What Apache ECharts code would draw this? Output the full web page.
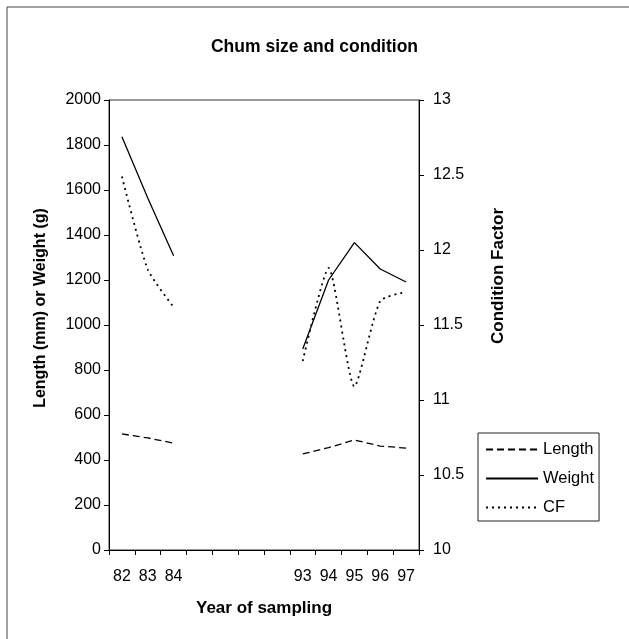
<!DOCTYPE html>
<html>
<head>
<meta charset="utf-8">
<script src="https://cdn.jsdelivr.net/npm/echarts@6/dist/echarts.min.js"></script>
<style>
  html, body { margin: 0; padding: 0; background: #fff; }
  #chumChart { width: 629px; height: 639px; }
</style>
</head>
<body>
<div id="chumChart"></div>
<script>
// years of sampling (blank slots stand for the gap between 84 and 93)
var years = ['82', '83', '84', '', '', '', '', '93', '94', '95', '96', '97']
// length (mm)
var lengthMm = [516, 498, 475, null, null, null, null, 427, 455, 489, 462, 453]
// weight (g)
var weightG = [1837, 1564, 1308, null, null, null, null, 893, 1200, 1366, 1249, 1191]
// condition factor (right axis)
var conditionFactor = [12.49, 11.87, 11.62, null, null, null, null, 11.26, 11.88, 11.09, 11.66, 11.72]

var leftTicks = { min: 0, max: 2000, interval: 200 }
var rightTicks = { min: 10, max: 13, interval: 0.5 }

var font = 'Liberation Sans, Arial, sans-serif'
var ink = '#000'

var chumChart = echarts.init(document.getElementById('chumChart'))
chumChart.setOption({
  animation: false,
  backgroundColor: '#fff',
  textStyle: { fontFamily: font, color: ink },
  title: {
    text: 'Chum size and condition',
    left: 'center',
    top: 33,
    textStyle: { fontFamily: font, fontSize: 17.5, fontWeight: 'bold', color: ink }
  },
  graphic: [
    { type: 'line', shape: { x1: 7, y1: 7, x2: 629, y2: 7 }, style: { stroke: '#444', lineWidth: 1 } },
    { type: 'line', shape: { x1: 7, y1: 7, x2: 7, y2: 639 }, style: { stroke: '#444', lineWidth: 1 } }
  ],
  legend: {
    orient: 'vertical',
    left: 478,
    top: 433,
    itemWidth: 52,
    itemHeight: 16,
    itemGap: 12,
    padding: [8, 5, 5, 7],
    borderColor: '#222',
    borderWidth: 1,
    backgroundColor: '#fff',
    selectedMode: false,
    itemStyle: { opacity: 0 },
    textStyle: { fontFamily: font, fontSize: 16.5, color: ink },
    data: ['Length', 'Weight', 'CF']
  },
  grid: {
    left: 109,
    right: 210,
    top: 100,
    bottom: 89,
    show: true,
    borderColor: '#333',
    borderWidth: 1
  },
  xAxis: {
    type: 'category',
    data: years,
    boundaryGap: true,
    name: 'Year of sampling',
    nameLocation: 'middle',
    nameGap: 50,
    nameTextStyle: { fontFamily: font, fontSize: 17, fontWeight: 'bold', color: ink },
    axisLine: { lineStyle: { color: ink, width: 1 } },
    axisTick: { show: true, length: 5, interval: 0, lineStyle: { color: ink } },
    axisLabel: { interval: 0, margin: 19, fontSize: 16, color: ink, fontFamily: font },
    splitLine: { show: false }
  },
  yAxis: [
    {
      type: 'value',
      position: 'left',
      min: leftTicks.min,
      max: leftTicks.max,
      interval: leftTicks.interval,
      name: 'Length (mm) or Weight (g)',
      nameLocation: 'middle',
      nameRotate: 90,
      nameGap: 60,
      nameTextStyle: { fontFamily: font, fontSize: 16, fontWeight: 'bold', color: ink, padding: [0, 0, 0, 34] },
      axisLine: { show: true, lineStyle: { color: ink, width: 1 } },
      axisTick: { show: true, length: 5, lineStyle: { color: ink } },
      axisLabel: { margin: 8, fontSize: 16, color: ink, fontFamily: font, formatter: function(v) { return String(v) } },
      splitLine: { show: false }
    },
    {
      type: 'value',
      position: 'right',
      min: rightTicks.min,
      max: rightTicks.max,
      interval: rightTicks.interval,
      name: 'Condition Factor',
      nameLocation: 'middle',
      nameRotate: 90,
      nameGap: 71,
      nameTextStyle: { fontFamily: font, fontSize: 17, fontWeight: 'bold', color: ink, padding: [0, 0, 0, 98] },
      axisLine: { show: true, lineStyle: { color: ink, width: 1 } },
      axisTick: { show: true, length: 5, lineStyle: { color: ink } },
      axisLabel: { margin: 14, fontSize: 16, color: ink, fontFamily: font },
      splitLine: { show: false }
    }
  ],
  series: [
    {
      name: 'Length',
      type: 'line',
      yAxisIndex: 0,
      data: lengthMm,
      symbol: 'none',
      connectNulls: false,
      silent: true,
      itemStyle: { color: ink },
      lineStyle: { color: ink, width: 1.3, type: [7, 4] }
    },
    {
      name: 'Weight',
      type: 'line',
      yAxisIndex: 0,
      data: weightG,
      symbol: 'none',
      connectNulls: false,
      silent: true,
      itemStyle: { color: ink },
      lineStyle: { color: ink, width: 1.3, type: 'solid' }
    },
    {
      name: 'CF',
      type: 'line',
      yAxisIndex: 1,
      data: conditionFactor,
      symbol: 'none',
      smooth: 0.2,
      connectNulls: false,
      silent: true,
      itemStyle: { color: ink },
      lineStyle: { color: ink, width: 1.8, type: [2, 4] }
    }
  ]
})
window.addEventListener('resize', () => { chumChart.resize() })
</script>
</body>
</html>
